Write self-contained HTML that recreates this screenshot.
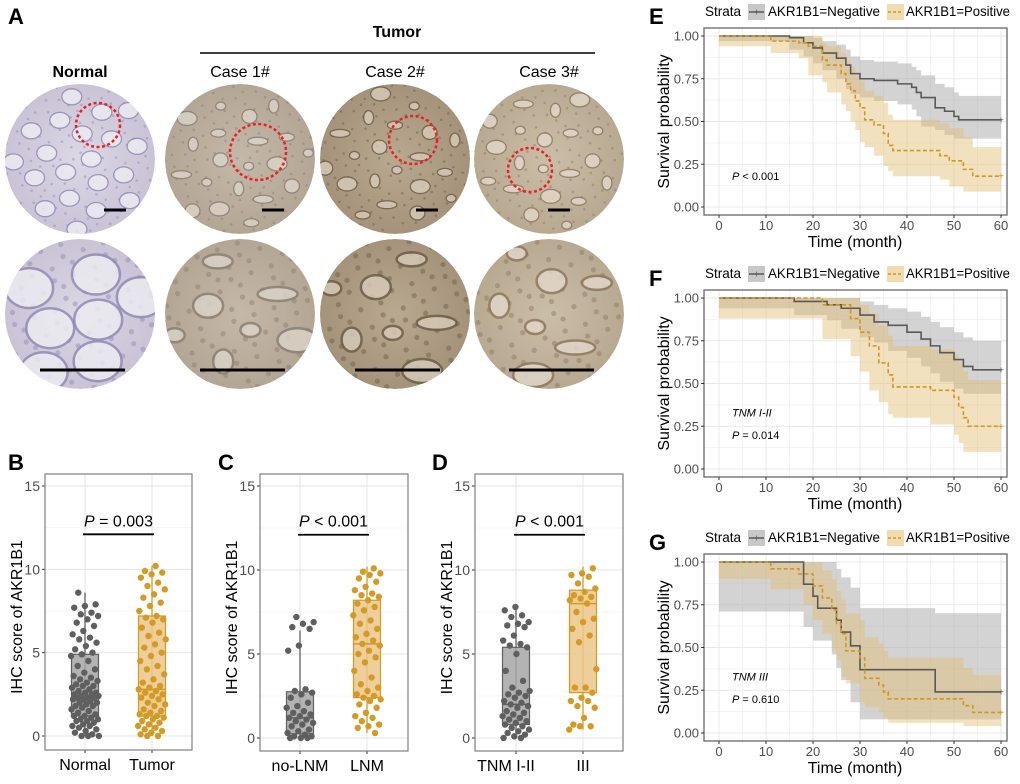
<!DOCTYPE html>
<html><head><meta charset="utf-8">
<style>
html,body{margin:0;padding:0;background:#fff;}
svg{display:block;font-family:"Liberation Sans",Arial,sans-serif;}
</style></head>
<body>
<svg id="fig" width="1020" height="784" viewBox="0 0 1020 784" xmlns="http://www.w3.org/2000/svg">
<defs>
<radialGradient id="gN" cx="50%" cy="50%" r="50%"><stop offset="0" stop-color="#dcd8e4"/><stop offset="1" stop-color="#c9c3d6"/></radialGradient>
<radialGradient id="g1" cx="50%" cy="50%" r="50%"><stop offset="0" stop-color="#c4b8a8"/><stop offset="1" stop-color="#b3a694"/></radialGradient>
<radialGradient id="g2" cx="50%" cy="50%" r="50%"><stop offset="0" stop-color="#b9a990"/><stop offset="1" stop-color="#a4937a"/></radialGradient>
<radialGradient id="g3" cx="50%" cy="50%" r="50%"><stop offset="0" stop-color="#cbbea8"/><stop offset="1" stop-color="#b8a991"/></radialGradient>
</defs>
<g id="panelA"></g>
<g id="boxes"></g>
<g id="km"></g>
</svg>
<script>
const NS="http://www.w3.org/2000/svg";
function mk(tag,attrs,parent,text){const e=document.createElementNS(NS,tag);for(const k in attrs)e.setAttribute(k,attrs[k]);if(text!==undefined)e.textContent=text;parent.appendChild(e);return e;}
function frac(x){return x-Math.floor(x);}

/* ---------------- Panel A ---------------- */
const A=document.getElementById('panelA');
let t;
t=mk('text',{x:8,y:24,'font-size':22,'font-weight':'bold'},A,'A');


t=mk('text',{x:397,y:37,'font-size':16,'font-weight':'bold','text-anchor':'middle'},A,'Tumor');


mk('line',{x1:200,y1:53,x2:595,y2:53,stroke:'#000','stroke-width':1.5},A);
const colNames=['Normal','Case 1#','Case 2#','Case 3#'];
const colX=[80,240,395,549];
const grads=['gN','g1','g2','g3'];
const glandCol=['#eeedf2','#ddd5ca','#d8ccba','#e3d9cb'];
const edgeCol=['#8f88b2','#8a7d72','#6d5b45','#8c765a'];
const redC=[[98,125,22],[258,152,28],[413,140,24],[530,170,22]];
for(let i=0;i<4;i++){
  t=mk('text',{x:colX[i],y:77,'font-size':16,'font-weight':i==0?'bold':'normal','text-anchor':'middle'},A,colNames[i]);
  
  
  for(let r=0;r<2;r++){
    const cy=r==0?159:314, R=75;
    const g=mk('g',{},A);
    
    
    const cid='clip'+i+r;
    const cp=mk('clipPath',{id:cid},g);mk('circle',{cx:colX[i],cy:cy,r:R},cp);
    const inner=mk('g',{'clip-path':'url(#'+cid+')'},g);
    mk('circle',{cx:colX[i],cy:cy,r:R,fill:'url(#'+grads[i]+')'},inner);
    // texture specks
    const ns=r==0?160:90;
    for(let k=0;k<ns;k++){
      const sx=colX[i]-R+2*R*frac(k*0.7548+i*0.13+r*0.31), sy=cy-R+2*R*frac(k*0.5698+i*0.27);
      mk('circle',{cx:sx,cy:sy,r:r==0?1.3:2.6,fill:edgeCol[i],opacity:0.45},inner);
    }
    const n=r==0?20:7;
    for(let k=0;k<n;k++){
      const a=(k*137.5+i*40+r*17)*Math.PI/180, d=R*Math.sqrt((k+0.5)/n)*0.95;
      const gx=colX[i]+d*Math.cos(a), gy=cy+d*Math.sin(a);
      const rx=r==0?(i==0?10:5+(k%3)*2.5):(i==0?24:10+(k%3)*5), ry=r==0?(i==0?8:4+(k%2)*3):(i==0?20:7+(k%2)*5);
      mk('ellipse',{cx:gx,cy:gy,rx:rx,ry:ry,fill:glandCol[i],stroke:edgeCol[i],'stroke-width':r==0?1.3:2.5,opacity:0.8},inner);
    }
    if(r==0){
      mk('circle',{cx:redC[i][0],cy:redC[i][1],r:redC[i][2],fill:'none',stroke:'#e8202a','stroke-width':2.5,'stroke-dasharray':'3,2.5'},g);
      const sx=[104,262,416,548][i];
      mk('line',{x1:sx,y1:210,x2:sx+22,y2:210,stroke:'#000','stroke-width':3},g);
    }else{
      mk('line',{x1:colX[i]-40,y1:370,x2:colX[i]+45,y2:370,stroke:'#000','stroke-width':3},g);
    }
  }
}

/* ---------------- Box plots ---------------- */
const Bx=document.getElementById('boxes');
const GREY='#5f5f5f', GOLD='#d49a26', GREYF='#a6a6a6', GOLDF='#ebc78a';
const bCats=['Normal','Tumor'];
const bStats=[[0,1.2,2.3,4.9,8.6],[0,1.2,2.8,7.2,10.2]];
const bPts0=[8.6,7.9,7.8,7.7,7.4,7.3,7.2,7.0,6.8,6.6,6.3,6.1,5.9,5.8,5.6,5.4,5.2,5.0,4.9,4.8,4.5,4.2,4.0,3.8,3.6,3.5,3.4,3.3,3.2,3.1,3.0,3.0,2.9,2.8,2.7,2.6,2.6,2.5,2.5,2.4,2.4,2.3,2.3,2.3,2.2,2.2,2.1,2.0,2.0,1.9,1.8,1.8,1.7,1.6,1.5,1.4,1.3,1.2,1.2,1.1,1.0,1.0,0.9,0.9,0.8,0.7,0.6,0.6,0.5,0.4,0.3,0.2,0.1,0,0,0];
const bPts1=[10.2,9.9,9.8,9.7,9.5,9.2,9.0,8.8,8.5,8.3,8.0,7.8,7.5,7.2,7.1,7.0,6.8,6.5,6.2,6.0,5.8,5.5,5.3,5.0,4.8,4.5,4.2,4.0,3.7,3.4,3.2,3.0,2.9,2.8,2.7,2.6,2.5,2.4,2.3,2.2,2.0,1.9,1.8,1.6,1.5,1.4,1.3,1.2,1.2,1.1,1.0,0.9,0.8,0.7,0.6,0.5,0.4,0.3,0.2,0.1,0,0];
const cCats=['no-LNM','LNM'];
const cStats=[[0,0.25,1.2,2.75,6.4],[0.3,2.4,5.6,8.2,10.2]];
const cPts0=[7.2,6.9,6.8,6.6,6.5,5.5,5.2,2.9,2.8,2.7,2.6,2.4,2.1,1.9,1.8,1.6,1.5,1.4,1.3,1.2,1.1,1.0,0.9,0.8,0.7,0.5,0.4,0.3,0.2,0.1,0.1,0,0,0];
const cPts1=[10.1,9.9,9.8,9.7,9.5,9.3,9.0,8.8,8.6,8.5,8.4,8.2,8.0,7.8,7.6,7.3,7.0,6.8,6.5,6.2,6.0,5.8,5.6,5.5,5.2,5.0,4.8,4.5,4.0,3.6,3.2,3.0,2.8,2.6,2.5,2.4,2.3,2.2,2.0,1.8,1.5,1.3,1.2,1.0,0.8,0.7,0.6,0.3];
const dCats=['TNM  I-II','III'];
const dStats=[[0,0.8,2.0,5.4,7.8],[0.5,2.7,8.0,8.8,10.2]];
const dPts0=[7.8,7.6,7.3,7.2,6.9,6.8,6.7,6.6,6.1,5.8,5.6,5.5,5.4,5.0,4.0,3.4,3.0,2.8,2.7,2.6,2.5,2.4,2.2,2.1,2.0,1.9,1.8,1.6,1.5,1.4,1.3,1.2,1.1,1.0,0.9,0.8,0.7,0.6,0.5,0.4,0.3,0.2,0.1,0,0];
const dPts1=[10.1,9.8,9.7,9.6,9.2,8.9,8.7,8.5,8.4,8.3,8.2,8.0,7.5,7.1,6.9,6.5,6.1,5.7,4.1,3.0,3.0,2.7,2.4,2.2,2.2,1.9,1.8,1.2,0.8,0.7,0.7,0.5];
const pTexts=['= 0.003','< 0.001','< 0.001'];

function boxPanel(cfg){
  const {label,lx,x0,x1,y0,y1,yTop,yBot,cats,catX,stats,pts,pText}=cfg;
  const g=mk('g',{},Bx);
  
  
  const ys=v=>yBot+(yTop-yBot)*v/15;
  let e=mk('text',{x:lx,y:470,'font-size':22,'font-weight':'bold'},g,label);
  
  
  mk('rect',{x:x0,y:y0,width:x1-x0,height:y1-y0,fill:'#fff'},g);
  for(let v=0;v<=15;v+=2.5){mk('line',{x1:x0,x2:x1,y1:ys(v),y2:ys(v),stroke:v%5==0?'#e6e6e6':'#f1f1f1','stroke-width':v%5==0?1:0.7},g);}
  catX.forEach(cx=>mk('line',{x1:cx,x2:cx,y1:y0,y2:y1,stroke:'#e6e6e6'},g));
  for(let v=0;v<=15;v+=5){
    mk('line',{x1:x0-3,x2:x0,y1:ys(v),y2:ys(v),stroke:'#333'},g);
    e=mk('text',{x:x0-5,y:ys(v)+5,'font-size':14,fill:'#4d4d4d','text-anchor':'end'},g,String(v));
    
    
  }
  e=mk('text',{x:0,y:0,'font-size':16,'text-anchor':'middle',transform:`translate(${x0-23},${(y0+y1)/2+5}) rotate(-90)`},g,'IHC score of AKR1B1');
  
  
  cats.forEach((c,i)=>{
    mk('line',{x1:catX[i],x2:catX[i],y1:y1,y2:y1+3,stroke:'#333'},g);
    e=mk('text',{x:catX[i]+(c.startsWith('TNM')?-10:0),y:y1+20,'font-size':16,'text-anchor':'middle',fill:'#000','xml:space':'preserve'},g,c);
    
    
    const s=stats[i], col=i==0?GREY:GOLD, fc=i==0?GREYF:GOLDF, w=27;
    const bg=mk('g',{},g);
    
    
    mk('line',{x1:catX[i],x2:catX[i],y1:ys(s[0]),y2:ys(s[4]),stroke:col,'stroke-width':1.3},bg);
    mk('rect',{x:catX[i]-w/2,y:ys(s[3]),width:w,height:ys(s[1])-ys(s[3]),fill:fc,'fill-opacity':0.85,stroke:col,'stroke-width':1.2},bg);
    mk('line',{x1:catX[i]-w/2,x2:catX[i]+w/2,y1:ys(s[2]),y2:ys(s[2]),stroke:col,'stroke-width':1.5},bg);
    pts[i].forEach((v,k)=>{
      const jit=(frac(k*0.618034+i*0.37+label.charCodeAt(0)*0.11)-0.5)*28;
      const p=mk('circle',{cx:catX[i]+jit,cy:ys(v),r:3.2,fill:col},bg);
      
      
    });
  });
  mk('rect',{x:x0,y:y0,width:x1-x0,height:y1-y0,fill:'none',stroke:'#7f7f7f','stroke-width':1.2},g);
  mk('line',{x1:catX[0]-2,x2:catX[1]+2,y1:ys(12.1),y2:ys(12.1),stroke:'#000','stroke-width':1.8},g);
  e=mk('text',{x:(catX[0]+catX[1])/2,y:ys(12.1)-8,'font-size':16,'text-anchor':'middle'},g);
  
  
  mk('tspan',{'font-style':'italic'},e,'P');
  mk('tspan',{},e,' '+pText);
}
boxPanel({label:'B',lx:8,x0:45,x1:192,y0:474,y1:750,yTop:486,yBot:736,cats:bCats,catX:[85,152],stats:bStats,pts:[bPts0,bPts1],pText:pTexts[0]});
boxPanel({label:'C',lx:218,x0:260,x1:408,y0:474,y1:751,yTop:486,yBot:738,cats:cCats,catX:[300,367],stats:cStats,pts:[cPts0,cPts1],pText:pTexts[1]});
boxPanel({label:'D',lx:432,x0:475,x1:623,y0:474,y1:751,yTop:486,yBot:738,cats:dCats,catX:[516,583],stats:dStats,pts:[dPts0,dPts1],pText:pTexts[2]});

/* ---------------- KM curves ---------------- */
const K=document.getElementById('km');
const eNegT=[0,15,18,20,22,25,27,28,30,33,38,41,42,43,46,48,50,51,60];
const eNegS=[1,0.99,0.96,0.93,0.9,0.87,0.83,0.78,0.75,0.74,0.72,0.70,0.67,0.64,0.58,0.56,0.53,0.51,0.51];
const eNegL=[1,0.97,0.92,0.88,0.84,0.8,0.75,0.69,0.66,0.64,0.62,0.6,0.57,0.53,0.47,0.45,0.42,0.40,0.40];
const eNegH=[1,1,1,0.99,0.97,0.95,0.92,0.88,0.86,0.85,0.84,0.82,0.8,0.77,0.72,0.7,0.67,0.65,0.65];
const ePosT=[0,11,17,19,22,23,26,27,28,29,30,31,33,35,36,37,47,49,52,54,60];
const ePosS=[1,0.97,0.96,0.94,0.86,0.83,0.78,0.72,0.68,0.62,0.58,0.51,0.48,0.43,0.36,0.33,0.30,0.27,0.22,0.18,0.18];
const ePosL=[1,0.94,0.9,0.87,0.77,0.73,0.67,0.6,0.56,0.5,0.45,0.38,0.35,0.3,0.24,0.21,0.18,0.16,0.12,0.09,0.09];
const ePosH=[1,1,1,1,0.96,0.94,0.9,0.86,0.82,0.77,0.74,0.68,0.65,0.61,0.54,0.51,0.49,0.46,0.41,0.35,0.35];
const fNegT=[0,16,23,26,30,33,36,40,43,45,47,50,52,54,60];
const fNegS=[1,0.98,0.96,0.94,0.9,0.86,0.84,0.8,0.76,0.72,0.68,0.64,0.60,0.58,0.58];
const fNegL=[1,0.94,0.9,0.87,0.82,0.77,0.74,0.69,0.65,0.6,0.56,0.51,0.47,0.44,0.44];
const fNegH=[1,1,1,1,0.98,0.96,0.94,0.92,0.89,0.86,0.83,0.8,0.77,0.75,0.75];
const fPosT=[0,22,28,30,32,34,36,37,45,50,51,52,53,60];
const fPosS=[1,0.96,0.88,0.8,0.72,0.62,0.55,0.48,0.46,0.42,0.36,0.30,0.25,0.25];
const fPosL=[1,0.88,0.76,0.66,0.57,0.46,0.39,0.32,0.3,0.26,0.2,0.15,0.1,0.1];
const fPosH=[1,1,1,0.96,0.91,0.84,0.78,0.72,0.7,0.67,0.62,0.57,0.52,0.52];
const gNegT=[0,18,20,21,24,25,26,28,30,46,60];
const gNegS=[1,0.87,0.80,0.73,0.73,0.66,0.59,0.51,0.37,0.24,0.24];
const gNegL=[1,0.71,0.62,0.54,0.54,0.46,0.38,0.31,0.18,0.08,0.08];
const gNegH=[1,1,1,1,1,0.96,0.91,0.85,0.73,0.70,0.70];
const gPosT=[0,11,17,18,20,22,24,25,26,27,30,31,34,35,36,52,54,60];
const gPosS=[1,0.96,0.93,0.93,0.86,0.79,0.72,0.64,0.58,0.48,0.44,0.32,0.28,0.24,0.20,0.16,0.12,0.12];
const gPosL=[1,0.9,0.84,0.84,0.75,0.66,0.58,0.49,0.43,0.33,0.29,0.18,0.15,0.12,0.09,0.06,0.04,0.04];
const gPosH=[1,1,1,1,1,0.95,0.9,0.83,0.78,0.7,0.66,0.56,0.52,0.48,0.44,0.38,0.34,0.34];
const pvalLabels=[['','< 0.001'],['TNM I-II','= 0.014'],['TNM III','= 0.610']];
const NEGC='#595959', POSC='#d4951f';

function stepPath(T,S,xs,ys){let d=`M${xs(T[0])},${ys(S[0])}`;for(let i=1;i<T.length;i++){d+=`H${xs(T[i])}V${ys(S[i])}`;}return d;}
function bandPath(T,L,H,xs,ys){
  let up=`M${xs(T[0])},${ys(H[0])}`;for(let i=1;i<T.length;i++)up+=`H${xs(T[i])}V${ys(H[i])}`;
  let dn='';for(let i=T.length-1;i>=0;i--){dn+=`V${ys(L[i])}H${xs(i>0?T[i-1]:T[0])}`;}
  return up+'H'+xs(T[T.length-1])+dn+'Z';
}
function kmPanel(cfg){
  const {label,off,neg,pos,pv}=cfg;
  const g=mk('g',{},K);
  
  
  const x0=704,x1=1007,y0=28+off,y1=215+off;
  const xs=v=>719+(1001-719)*v/60, ys=v=>207+off-(207-36)*v;
  let e=mk('text',{x:649,y:24+off,'font-size':22,'font-weight':'bold'},g,label);
  
  
  const lg=mk('g',{},g);
  
  
  mk('text',{x:705,y:16+off,'font-size':14,textLength:36,lengthAdjust:'spacingAndGlyphs'},lg,'Strata');
  mk('rect',{x:748,y:4+off,width:17,height:16,fill:'#c8c8c8'},lg);
  mk('line',{x1:749,x2:764,y1:12+off,y2:12+off,stroke:NEGC,'stroke-width':1.5},lg);
  mk('text',{x:756.5,y:15.5+off,'font-size':10,'text-anchor':'middle',fill:NEGC},lg,'+');
  e=mk('text',{x:768,y:16+off,'font-size':14,textLength:112,lengthAdjust:'spacingAndGlyphs'},lg,'AKR1B1=Negative');
  
  
  mk('rect',{x:887,y:4+off,width:17,height:16,fill:'#f1dcb0'},lg);
  mk('line',{x1:888,x2:903,y1:12+off,y2:12+off,stroke:POSC,'stroke-width':1.5,'stroke-dasharray':'3,2'},lg);
  e=mk('text',{x:906,y:16+off,'font-size':14,textLength:104,lengthAdjust:'spacingAndGlyphs'},lg,'AKR1B1=Positive');
  
  
  for(let v=0;v<=1.0001;v+=0.125){mk('line',{x1:x0,x2:x1,y1:ys(v),y2:ys(v),stroke:Math.round(v*8)%2==0?'#e8e8e8':'#f2f2f2'},g);}
  for(let v=0;v<=60;v+=5){mk('line',{x1:xs(v),x2:xs(v),y1:y0,y2:y1,stroke:v%10==0?'#e8e8e8':'#f2f2f2'},g);}
  e=mk('path',{d:bandPath(neg[0],neg[2],neg[3],xs,ys),fill:'#a8a8a8','fill-opacity':0.5},g);
  
  
  e=mk('path',{d:bandPath(pos[0],pos[2],pos[3],xs,ys),fill:'#e3bd6e','fill-opacity':0.45},g);
  
  
  e=mk('path',{d:stepPath(neg[0],neg[1],xs,ys),fill:'none',stroke:NEGC,'stroke-width':1.6},g);
  
  
  e=mk('path',{d:stepPath(pos[0],pos[1],xs,ys),fill:'none',stroke:POSC,'stroke-width':1.6,'stroke-dasharray':'4,2.5'},g);
  
  
  [[neg,NEGC],[pos,POSC]].forEach(([s,c])=>{const n=s[0].length-1;mk('text',{x:xs(s[0][n]),y:ys(s[1][n])+3.5,'font-size':10,'text-anchor':'middle',fill:c},g,'+');});
  mk('rect',{x:x0,y:y0,width:x1-x0,height:y1-y0,fill:'none',stroke:'#666','stroke-width':1.3},g);
  ['0.00','0.25','0.50','0.75','1.00'].forEach((s,i)=>{
    mk('line',{x1:x0-3,x2:x0,y1:ys(i*0.25),y2:ys(i*0.25),stroke:'#333'},g);
    const tt=mk('text',{x:x0-5,y:ys(i*0.25)+4.5,'font-size':13,fill:'#4d4d4d','text-anchor':'end'},g,s);
    
    
  });
  for(let v=0;v<=60;v+=10){
    mk('line',{x1:xs(v),x2:xs(v),y1:y1,y2:y1+3,stroke:'#333'},g);
    const tt=mk('text',{x:xs(v),y:y1+15,'font-size':13,fill:'#4d4d4d','text-anchor':'middle'},g,String(v));
    
    
  }
  e=mk('text',{x:855,y:247+off,'font-size':16,'text-anchor':'middle'},g,'Time (month)');
  
  
  e=mk('text',{x:0,y:0,'font-size':16,'text-anchor':'middle',transform:`translate(${669},${(y0+y1)/2}) rotate(-90)`},g,'Survival probability');
  
  
  if(pv[0]){const tt=mk('text',{x:732,y:ys(0.33)+4,'font-size':11,'font-style':'italic'},g,pv[0]);}
  e=mk('text',{x:732,y:ys(pv[0]?0.2:0.18)+4,'font-size':11},g);
  
  
  mk('tspan',{'font-style':'italic'},e,'P');
  mk('tspan',{},e,' '+pv[1]);
}
kmPanel({label:'E',off:0,neg:[eNegT,eNegS,eNegL,eNegH],pos:[ePosT,ePosS,ePosL,ePosH],pv:pvalLabels[0]});
kmPanel({label:'F',off:262,neg:[fNegT,fNegS,fNegL,fNegH],pos:[fPosT,fPosS,fPosL,fPosH],pv:pvalLabels[1]});
kmPanel({label:'G',off:526,neg:[gNegT,gNegS,gNegL,gNegH],pos:[gPosT,gPosS,gPosL,gPosH],pv:pvalLabels[2]});
</script>
</body></html>
